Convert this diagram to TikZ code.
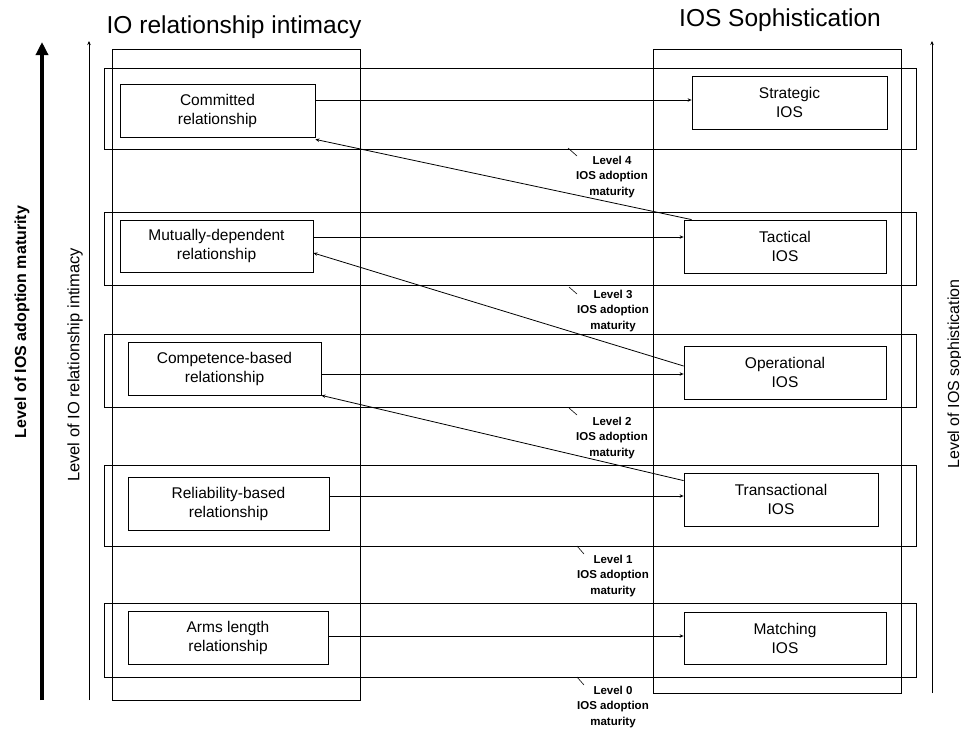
\documentclass[tikz,border=0pt]{standalone}
\usepackage{fontspec}
\setmainfont{Liberation Sans}
\usetikzlibrary{arrows.meta}
\begin{document}
\begin{tikzpicture}[x=1pt,y=-1pt,
  box/.style={draw, line width=0.8pt, inner sep=0pt, align=center, font=\fontsize{15.5}{19}\selectfont},
  band/.style={draw, line width=0.8pt},
  arr/.style={-{Stealth[length=4pt,width=3.5pt]}, line width=0.8pt},
  lvl/.style={align=center, font=\fontsize{11.5}{15.5}\selectfont\bfseries, inner sep=0pt},
  tick/.style={line width=0.6pt},
  side/.style={rotate=90, inner sep=0pt, font=\fontsize{16}{19}\selectfont},
]
\useasboundingbox (0,0) rectangle (961,729);

% titles
\node[anchor=base, font=\fontsize{24.5}{29}\selectfont] (t1) at (234,33) {IO relationship intimacy};
\node[anchor=base, font=\fontsize{24.5}{29}\selectfont] (t2) at (780,26) {IOS Sophistication};

% columns
\draw[band] (112,49) rectangle (360,700);
\draw[band] (653,49) rectangle (901,693);

% row bands
\draw[band] (104,68) rectangle (916,149);
\draw[band] (104,212) rectangle (916,285);
\draw[band] (104,334) rectangle (916,407);
\draw[band] (104,465) rectangle (916,546);
\draw[band] (104,603) rectangle (916,677);

% left boxes
\node[box, minimum width=195pt, minimum height=53pt] (committed) at (217.5,110.5) {Committed\\relationship};
\node[box, minimum width=193pt, minimum height=52pt] (mutual) at (216.5,246) {Mutually-dependent\\relationship};
\node[box, minimum width=193pt, minimum height=53pt] (compet) at (224.5,368.5) {Competence-based\\relationship};
\node[box, minimum width=201pt, minimum height=53pt] (reliab) at (228.5,503.5) {Reliability-based\\relationship};
\node[box, minimum width=200pt, minimum height=53pt] (arms) at (228,637.5) {Arms length\\relationship};

% right boxes
\node[box, minimum width=195pt, minimum height=53pt] (strategic) at (789.5,102.5) {Strategic\\IOS};
\node[box, minimum width=202pt, minimum height=53pt] (tactical) at (785,246.5) {Tactical\\IOS};
\node[box, minimum width=202pt, minimum height=53pt] (operational) at (785,372.5) {Operational\\IOS};
\node[box, minimum width=194pt, minimum height=53pt] (transact) at (781,499.5) {Transactional\\IOS};
\node[box, minimum width=202pt, minimum height=52pt] (matching) at (785,638) {Matching\\IOS};

% horizontal arrows
\draw[arr] ([yshift=10.5pt]committed.east) -- ([yshift=2.5pt]strategic.west);
\draw[arr] ([yshift=9pt]mutual.east) -- ([yshift=9.5pt]tactical.west);
\draw[arr] ([yshift=-5.5pt]compet.east) -- ([yshift=-1.5pt]operational.west);
\draw[arr] ([yshift=7.5pt]reliab.east) -- ([yshift=3.5pt]transact.west);
\draw[arr] ([yshift=1.5pt]arms.east) -- ([yshift=2pt]matching.west);

% diagonal arrows
\draw[arr] ([xshift=8pt]tactical.north west) -- ([yshift=-2pt]committed.south east);
\draw[arr] ([yshift=6.5pt]operational.west) -- ([yshift=-7pt]mutual.east);
\draw[arr] ([yshift=-8pt]transact.north west) -- (compet.south east);

% level labels
\node[lvl] (lv4) at (612,177) {Level 4\\IOS adoption\\maturity};
\node[lvl] (lv3) at (613,311) {Level 3\\IOS adoption\\maturity};
\node[lvl] (lv2) at (612,438) {Level 2\\IOS adoption\\maturity};
\node[lvl] (lv1) at (613,576) {Level 1\\IOS adoption\\maturity};
\node[lvl] (lv0) at (613,707) {Level 0\\IOS adoption\\maturity};
\coordinate (k4a) at (568,148); \coordinate (k4b) at (577,156);
\coordinate (k3a) at (569,287); \coordinate (k3b) at (577,294);
\coordinate (k2a) at (569,408); \coordinate (k2b) at (577,415);
\coordinate (k1a) at (577,546); \coordinate (k1b) at (584,554);
\coordinate (k0a) at (577,677); \coordinate (k0b) at (584,685);
\draw[tick] (k4a) -- (k4b);
\draw[tick] (k3a) -- (k3b);
\draw[tick] (k2a) -- (k2b);
\draw[tick] (k1a) -- (k1b);
\draw[tick] (k0a) -- (k0b);

% side axes
\coordinate (ax1a) at (42,700); \coordinate (ax1b) at (42,42);
\coordinate (ax2a) at (89,700); \coordinate (ax2b) at (89,41);
\coordinate (ax3a) at (932,693); \coordinate (ax3b) at (932,41);
\draw[line width=4pt, -{Triangle[length=13pt,width=12pt]}] (ax1a) -- (ax1b);
\draw[arr] (ax2a) -- (ax2b);
\draw[arr] (ax3a) -- (ax3b);

\node[side, font=\fontsize{16}{19}\selectfont\bfseries] (s1) at (22,322) {Level of IOS adoption maturity};
\node[side, font=\fontsize{16.5}{19}\selectfont] (s2) at (75,365) {Level of IO relationship intimacy};
\node[side] (s3) at (955,374) {Level of IOS sophistication};
\end{tikzpicture}
\end{document}
